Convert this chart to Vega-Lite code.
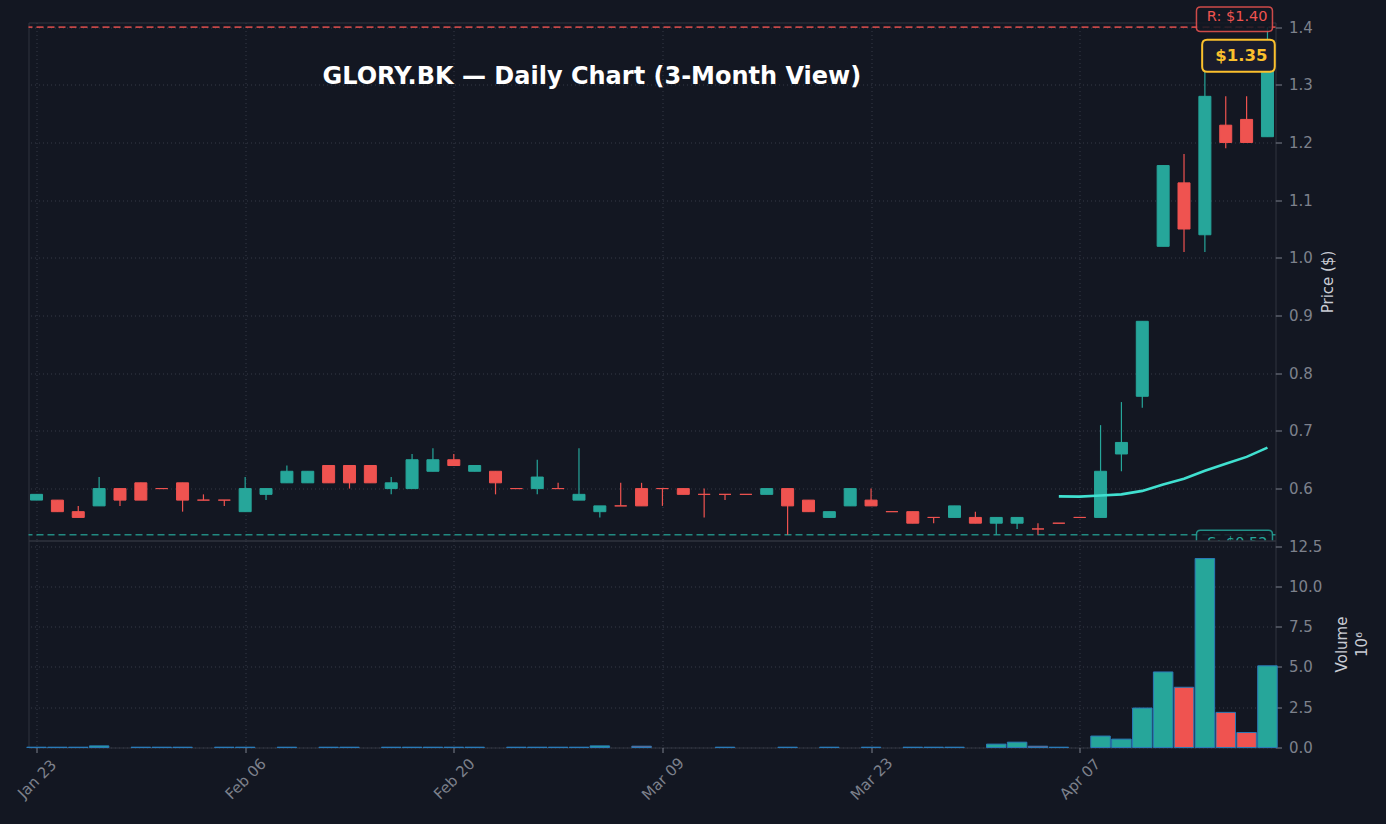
{
  "$schema": "https://vega.github.io/schema/vega-lite/v6.json",
  "background": "#131722",
  "padding": {"top": 3.5, "left": 13.5, "right": 16, "bottom": 22},
  "title": {
    "text": "GLORY.BK — Daily Chart (3-Month View)",
    "font": "DejaVu Sans", "fontSize": 24, "fontWeight": "bold", "color": "#ffffff",
    "anchor": "start", "frame": "group", "orient": "top", "offset": 0, "dx": 294, "dy": 104, "baseline": "alphabetic"
  },
  "datasets": {
    "candles": [
      {"date": "2026-01-23", "open": 0.58, "high": 0.59, "low": 0.58, "close": 0.59, "volume": 0.02},
      {"date": "2026-01-26", "open": 0.58, "high": 0.58, "low": 0.56, "close": 0.56, "volume": 0.02},
      {"date": "2026-01-27", "open": 0.56, "high": 0.57, "low": 0.55, "close": 0.55, "volume": 0.02},
      {"date": "2026-01-28", "open": 0.57, "high": 0.62, "low": 0.57, "close": 0.60, "volume": 0.10},
      {"date": "2026-01-29", "open": 0.60, "high": 0.60, "low": 0.57, "close": 0.58, "volume": 0},
      {"date": "2026-01-30", "open": 0.61, "high": 0.61, "low": 0.58, "close": 0.58, "volume": 0.02},
      {"date": "2026-02-02", "open": 0.60, "high": 0.60, "low": 0.60, "close": 0.60, "volume": 0.02},
      {"date": "2026-02-03", "open": 0.61, "high": 0.61, "low": 0.56, "close": 0.58, "volume": 0.02},
      {"date": "2026-02-04", "open": 0.58, "high": 0.59, "low": 0.58, "close": 0.58, "volume": 0},
      {"date": "2026-02-05", "open": 0.58, "high": 0.58, "low": 0.57, "close": 0.58, "volume": 0.02},
      {"date": "2026-02-06", "open": 0.56, "high": 0.62, "low": 0.56, "close": 0.60, "volume": 0.02},
      {"date": "2026-02-09", "open": 0.59, "high": 0.60, "low": 0.58, "close": 0.60, "volume": 0},
      {"date": "2026-02-10", "open": 0.61, "high": 0.64, "low": 0.61, "close": 0.63, "volume": 0.02},
      {"date": "2026-02-11", "open": 0.61, "high": 0.63, "low": 0.61, "close": 0.63, "volume": 0},
      {"date": "2026-02-12", "open": 0.64, "high": 0.64, "low": 0.61, "close": 0.61, "volume": 0.02},
      {"date": "2026-02-13", "open": 0.64, "high": 0.64, "low": 0.60, "close": 0.61, "volume": 0.02},
      {"date": "2026-02-16", "open": 0.64, "high": 0.64, "low": 0.61, "close": 0.61, "volume": 0},
      {"date": "2026-02-17", "open": 0.60, "high": 0.62, "low": 0.59, "close": 0.61, "volume": 0.02},
      {"date": "2026-02-18", "open": 0.60, "high": 0.66, "low": 0.60, "close": 0.65, "volume": 0.02},
      {"date": "2026-02-19", "open": 0.63, "high": 0.67, "low": 0.63, "close": 0.65, "volume": 0.02},
      {"date": "2026-02-20", "open": 0.65, "high": 0.66, "low": 0.64, "close": 0.64, "volume": 0.02},
      {"date": "2026-02-23", "open": 0.63, "high": 0.64, "low": 0.63, "close": 0.64, "volume": 0.02},
      {"date": "2026-02-24", "open": 0.63, "high": 0.63, "low": 0.59, "close": 0.61, "volume": 0},
      {"date": "2026-02-25", "open": 0.60, "high": 0.60, "low": 0.60, "close": 0.60, "volume": 0.02},
      {"date": "2026-02-26", "open": 0.60, "high": 0.65, "low": 0.59, "close": 0.62, "volume": 0.02},
      {"date": "2026-02-27", "open": 0.60, "high": 0.61, "low": 0.60, "close": 0.60, "volume": 0.02},
      {"date": "2026-03-02", "open": 0.58, "high": 0.67, "low": 0.58, "close": 0.59, "volume": 0.02},
      {"date": "2026-03-04", "open": 0.56, "high": 0.57, "low": 0.55, "close": 0.57, "volume": 0.10},
      {"date": "2026-03-05", "open": 0.57, "high": 0.61, "low": 0.57, "close": 0.57, "volume": 0},
      {"date": "2026-03-06", "open": 0.60, "high": 0.61, "low": 0.57, "close": 0.57, "volume": 0.08},
      {"date": "2026-03-09", "open": 0.60, "high": 0.60, "low": 0.57, "close": 0.60, "volume": 0},
      {"date": "2026-03-10", "open": 0.60, "high": 0.60, "low": 0.59, "close": 0.59, "volume": 0},
      {"date": "2026-03-11", "open": 0.59, "high": 0.60, "low": 0.55, "close": 0.59, "volume": 0},
      {"date": "2026-03-12", "open": 0.59, "high": 0.59, "low": 0.58, "close": 0.59, "volume": 0.02},
      {"date": "2026-03-13", "open": 0.59, "high": 0.59, "low": 0.59, "close": 0.59, "volume": 0},
      {"date": "2026-03-16", "open": 0.59, "high": 0.60, "low": 0.59, "close": 0.60, "volume": 0},
      {"date": "2026-03-17", "open": 0.60, "high": 0.60, "low": 0.52, "close": 0.57, "volume": 0.02},
      {"date": "2026-03-18", "open": 0.58, "high": 0.58, "low": 0.56, "close": 0.56, "volume": 0},
      {"date": "2026-03-19", "open": 0.55, "high": 0.56, "low": 0.55, "close": 0.56, "volume": 0.02},
      {"date": "2026-03-20", "open": 0.57, "high": 0.60, "low": 0.57, "close": 0.60, "volume": 0},
      {"date": "2026-03-23", "open": 0.58, "high": 0.60, "low": 0.57, "close": 0.57, "volume": 0.02},
      {"date": "2026-03-24", "open": 0.56, "high": 0.56, "low": 0.56, "close": 0.56, "volume": 0},
      {"date": "2026-03-25", "open": 0.56, "high": 0.56, "low": 0.54, "close": 0.54, "volume": 0.02},
      {"date": "2026-03-26", "open": 0.55, "high": 0.55, "low": 0.54, "close": 0.55, "volume": 0.02},
      {"date": "2026-03-27", "open": 0.55, "high": 0.57, "low": 0.55, "close": 0.57, "volume": 0.02},
      {"date": "2026-03-30", "open": 0.55, "high": 0.56, "low": 0.54, "close": 0.54, "volume": 0},
      {"date": "2026-03-31", "open": 0.54, "high": 0.55, "low": 0.52, "close": 0.55, "volume": 0.21},
      {"date": "2026-04-01", "open": 0.54, "high": 0.55, "low": 0.53, "close": 0.55, "volume": 0.33},
      {"date": "2026-04-02", "open": 0.53, "high": 0.54, "low": 0.52, "close": 0.53, "volume": 0.08},
      {"date": "2026-04-03", "open": 0.54, "high": 0.54, "low": 0.54, "close": 0.54, "volume": 0.02},
      {"date": "2026-04-07", "open": 0.55, "high": 0.55, "low": 0.55, "close": 0.55, "volume": 0},
      {"date": "2026-04-08", "open": 0.55, "high": 0.71, "low": 0.55, "close": 0.63, "volume": 0.71},
      {"date": "2026-04-09", "open": 0.66, "high": 0.75, "low": 0.63, "close": 0.68, "volume": 0.52},
      {"date": "2026-04-10", "open": 0.76, "high": 0.89, "low": 0.74, "close": 0.89, "volume": 2.45},
      {"date": "2026-04-16", "open": 1.02, "high": 1.16, "low": 1.02, "close": 1.16, "volume": 4.69},
      {"date": "2026-04-17", "open": 1.13, "high": 1.18, "low": 1.01, "close": 1.05, "volume": 3.74},
      {"date": "2026-04-20", "open": 1.04, "high": 1.34, "low": 1.01, "close": 1.28, "volume": 11.73},
      {"date": "2026-04-21", "open": 1.23, "high": 1.28, "low": 1.19, "close": 1.20, "volume": 2.18},
      {"date": "2026-04-22", "open": 1.24, "high": 1.28, "low": 1.20, "close": 1.20, "volume": 0.93},
      {"date": "2026-04-23", "open": 1.21, "high": 1.40, "low": 1.21, "close": 1.35, "volume": 5.07}
    ],
    "ma": [
      {"date": "2026-04-03", "ma": 0.5865},
      {"date": "2026-04-07", "ma": 0.586},
      {"date": "2026-04-08", "ma": 0.588},
      {"date": "2026-04-09", "ma": 0.590},
      {"date": "2026-04-10", "ma": 0.596},
      {"date": "2026-04-16", "ma": 0.607},
      {"date": "2026-04-17", "ma": 0.617},
      {"date": "2026-04-20", "ma": 0.631},
      {"date": "2026-04-21", "ma": 0.643},
      {"date": "2026-04-22", "ma": 0.655},
      {"date": "2026-04-23", "ma": 0.671}
    ],
    "levels": [
      {"date": "2026-04-23", "level": 1.40, "kind": "R", "label": "R: $1.40"},
      {"date": "2026-04-23", "level": 0.52, "kind": "S", "label": "S: $0.52"}
    ],
    "last": [
      {"date": "2026-04-23", "price": 1.35, "label": "$1.35"}
    ]
  },
  "vconcat": [
    {
      "width": 1247,
      "height": 518,
      "layer": [
        {
          "data": {"name": "levels"},
          "mark": {"type": "rule", "strokeDash": [7, 4], "strokeWidth": 1.6, "opacity": 0.8},
          "encoding": {
            "y": {"field": "level", "type": "quantitative", "scale": {"domain": [0.51, 1.408], "nice": false, "zero": false},
              "axis": {"orient": "right", "values": [0.6, 0.7, 0.8, 0.9, 1.0, 1.1, 1.2, 1.3, 1.4], "format": ".1f", "title": "Price ($)", "titlePadding": 8, "titleAngle": 270, "titleBaseline": "top"}},
            "color": {"field": "kind", "type": "nominal", "scale": {"domain": ["R", "S"], "range": ["#ef5350", "#26a69a"]}, "legend": null}
          }
        },
        {
          "data": {"name": "candles"},
          "mark": {"type": "rule", "strokeWidth": 1.2},
          "encoding": {
            "x": {"field": "date", "type": "ordinal", "scale": {"type": "point", "padding": 0.385},
              "axis": {"values": ["2026-01-23", "2026-02-06", "2026-02-20", "2026-03-09", "2026-03-23", "2026-04-07"], "labels": false, "ticks": false, "domain": false, "title": null, "grid": true}},
            "y": {"field": "low", "type": "quantitative", "title": "Price ($)"},
            "y2": {"field": "high"},
            "color": {"condition": {"test": "datum.close > datum.open", "value": "#26a69a"}, "value": "#ef5350"}
          }
        },
        {
          "data": {"name": "candles"},
          "mark": {"type": "bar", "width": 12, "strokeWidth": 1},
          "encoding": {
            "x": {"field": "date", "type": "ordinal"},
            "y": {"field": "open", "type": "quantitative", "title": "Price ($)"},
            "y2": {"field": "close"},
            "color": {"condition": {"test": "datum.close > datum.open", "value": "#26a69a"}, "value": "#ef5350"},
            "stroke": {"condition": {"test": "datum.close > datum.open", "value": "#26a69a"}, "value": "#ef5350"}
          }
        },
        {
          "data": {"name": "ma"},
          "mark": {"type": "line", "color": "#40e0d0", "strokeWidth": 2.6},
          "encoding": {
            "x": {"field": "date", "type": "ordinal"},
            "y": {"field": "ma", "type": "quantitative", "title": "Price ($)"}
          }
        },
        {
          "data": {"name": "levels"},
          "transform": [{"filter": "datum.kind == 'R'"}],
          "mark": {"type": "point", "shape": "M -6.7 -2 L 0.1 -2 Q 0.5 -2 0.5 -1.6 L 0.5 0.03 Q 0.5 0.43 0.1 0.43 L -6.7 0.43 Q -7.1 0.43 -7.1 0.03 L -7.1 -1.6 Q -7.1 -2 -6.7 -2 Z", "size": 400, "filled": true, "fill": "#131722", "fillOpacity": 0.85, "stroke": "#ef5350", "strokeOpacity": 0.85, "strokeWidth": 1.5, "opacity": 1},
          "encoding": {
            "x": {"field": "date", "type": "ordinal"},
            "y": {"field": "level", "type": "quantitative", "title": "Price ($)"}
          }
        },
        {
          "data": {"name": "levels"},
          "transform": [{"filter": "datum.kind == 'R'"}],
          "mark": {"type": "text", "align": "right", "baseline": "bottom", "dy": -3, "font": "DejaVu Sans", "fontSize": 14.5, "color": "#ef5350"},
          "encoding": {
            "x": {"field": "date", "type": "ordinal"},
            "y": {"field": "level", "type": "quantitative", "title": "Price ($)"},
            "text": {"field": "label"}
          }
        },
        {
          "data": {"name": "levels"},
          "transform": [{"filter": "datum.kind == 'S'"}],
          "mark": {"type": "point", "clip": true, "shape": "M -6.7 -0.44 L 0.1 -0.44 Q 0.5 -0.44 0.5 -0.04 L 0.5 1.59 Q 0.5 1.99 0.1 1.99 L -6.7 1.99 Q -7.1 1.99 -7.1 1.59 L -7.1 -0.04 Q -7.1 -0.44 -6.7 -0.44 Z", "size": 400, "filled": true, "fill": "#131722", "fillOpacity": 0.85, "stroke": "#26a69a", "strokeOpacity": 0.85, "strokeWidth": 1.5, "opacity": 1},
          "encoding": {
            "x": {"field": "date", "type": "ordinal"},
            "y": {"field": "level", "type": "quantitative", "title": "Price ($)"}
          }
        },
        {
          "data": {"name": "levels"},
          "transform": [{"filter": "datum.kind == 'S'"}],
          "mark": {"type": "text", "clip": true, "align": "right", "baseline": "top", "dy": 1, "font": "DejaVu Sans", "fontSize": 14.5, "color": "#26a69a"},
          "encoding": {
            "x": {"field": "date", "type": "ordinal"},
            "y": {"field": "level", "type": "quantitative", "title": "Price ($)"},
            "text": {"field": "label"}
          }
        },
        {
          "data": {"name": "last"},
          "mark": {"type": "point", "shape": "M -6.03 -1.62 L 0.23 -1.62 Q 0.73 -1.62 0.73 -1.12 L 0.73 1.08 Q 0.73 1.58 0.23 1.58 L -6.03 1.58 Q -6.53 1.58 -6.53 1.08 L -6.53 -1.12 Q -6.53 -1.62 -6.03 -1.62 Z", "size": 400, "filled": true, "fill": "#1a1c2c", "fillOpacity": 1, "stroke": "#fbc02d", "strokeWidth": 2, "opacity": 1},
          "encoding": {
            "x": {"field": "date", "type": "ordinal"},
            "y": {"field": "price", "type": "quantitative", "title": "Price ($)"}
          }
        },
        {
          "data": {"name": "last"},
          "mark": {"type": "text", "align": "right", "baseline": "middle", "font": "DejaVu Sans", "fontSize": 16.5, "fontWeight": "bold", "color": "#fbc02d"},
          "encoding": {
            "x": {"field": "date", "type": "ordinal"},
            "y": {"field": "price", "type": "quantitative", "title": "Price ($)"},
            "text": {"field": "label"}
          }
        }
      ]
    },
    {
      "width": 1247,
      "height": 207,
      "data": {"name": "candles"},
      "mark": {"type": "bar", "width": 19.5, "stroke": "#2a7ab8", "strokeWidth": 1},
      "encoding": {
        "x": {"field": "date", "type": "ordinal", "scale": {"type": "point", "padding": 0.385},
          "axis": {"values": ["2026-01-23", "2026-02-06", "2026-02-20", "2026-03-09", "2026-03-23", "2026-04-07"],
            "labelExpr": "utcFormat(toDate(datum.value), '%b %d')", "labelAngle": -45, "labelAlign": "center", "labelBaseline": "middle",
            "labelPadding": 26, "tickSize": 5, "ticks": true, "domain": false, "title": null, "grid": true}},
        "y": {"field": "volume", "type": "quantitative", "scale": {"domain": [0, 12.85], "nice": false, "zero": true},
          "axis": {"orient": "right", "values": [0, 2.5, 5, 7.5, 10, 12.5], "format": ".1f", "title": ["Volume", "10⁶"], "titlePadding": 8, "titleLineHeight": 20, "titleAngle": 270}},
        "color": {"condition": {"test": "datum.close > datum.open", "value": "#26a69a"}, "value": "#ef5350"},
        "strokeOpacity": {"condition": {"test": "datum.volume > 0", "value": 1}, "value": 0}
      }
    }
  ],
  "spacing": 0,
  "bounds": "flush",
  "config": {
    "background": "#131722",
    "view": {"stroke": "#30343f", "strokeWidth": 1},
    "font": "DejaVu Sans",
    "axis": {
      "labelFont": "DejaVu Sans", "labelFontSize": 15, "labelColor": "#7d818c",
      "titleFont": "DejaVu Sans", "titleFontSize": 15, "titleFontWeight": "normal", "titleColor": "#c9ccd4",
      "tickColor": "#7d818c", "tickSize": 6, "labelPadding": 7,
      "gridColor": "#363a46", "gridDash": [1, 3], "gridWidth": 1, "domain": false
    }
  }
}
